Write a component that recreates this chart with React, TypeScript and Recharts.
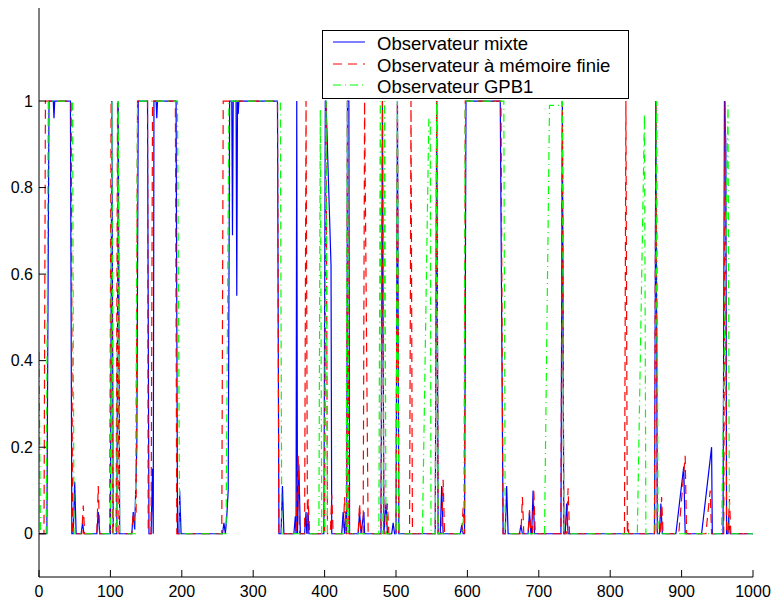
import React from 'react';
import { LineChart, Line, XAxis, YAxis, Legend } from 'recharts';

const xTicks = [0, 100, 200, 300, 400, 500, 600, 700, 800, 900, 1000];
const yTicks = [0, 0.2, 0.4, 0.6, 0.8, 1];

// [k, probabilité]
const mixte: [number, number][] = [
  [0, 0], [11, 0], [14, 1], [20, 1], [21, 0.96], [22, 1], [44, 1], [46, 0], [48, 0], [50, 0.12], [52, 0],
  [59, 0], [61, 0.025], [63, 0], [81, 0], [83, 0.05], [85, 0], [100, 0], [102, 1], [104, 0], [109, 0],
  [111, 1], [113, 0], [130, 0], [132, 0.05], [134, 0.01], [137, 0.2], [139, 1], [152, 1], [154, 0],
  [157, 0], [159, 0.15], [160, 0], [161, 1], [164, 1], [165, 0.96], [166, 1], [192, 1], [194, 0],
  [196, 0], [197, 0.1], [199, 0], [257, 0], [259, 0.025], [261, 0], [263, 0.04], [265, 0.1], [267, 1],
  [270, 1], [271, 0.69], [272, 1], [276, 1], [277, 0.55], [278, 1], [279, 0.97], [280, 1], [334, 1],
  [336, 0], [339, 0], [341, 0.11], [343, 0], [357, 0], [359, 0.04], [360, 0], [361, 1], [362, 0],
  [364, 0.16], [366, 0], [372, 0], [374, 0.05], [375, 0], [377, 0.05], [378, 0], [399, 0], [401, 1],
  [402, 1], [409, 0.62], [410, 0], [424, 0], [426, 0.05], [428, 0], [430, 0.05], [431, 0], [432, 1],
  [434, 1], [435, 0], [447, 0], [449, 0.05], [451, 0], [455, 0.05], [456, 0], [479, 0], [481, 1],
  [483, 0], [486, 0.07], [488, 0], [494, 0], [496, 0.025], [498, 0], [500, 0], [502, 1], [504, 0],
  [555, 0], [557, 1], [559, 0], [562, 0], [564, 0.11], [566, 0], [590, 0], [592, 0.02], [594, 0],
  [596, 0], [598, 1], [646, 1], [650, 0], [653, 0], [655, 0.11], [657, 0], [673, 0], [675, 0.02],
  [677, 0], [685, 0], [687, 0.05], [689, 0], [690, 0], [692, 0.1], [694, 0], [731, 0], [733, 1],
  [735, 0], [737, 0], [739, 0.07], [741, 0], [862, 0], [864, 1], [866, 0], [869, 0], [871, 0.07],
  [873, 0], [892, 0], [903, 0.155], [905, 0], [928, 0], [942, 0.2], [943, 0], [958, 0], [960, 1],
  [962, 0.9], [963, 0], [965, 0], [966, 0.04], [968, 0], [1000, 0],
];

const memoire: [number, number][] = [
  [0, 0], [7, 0], [9, 1], [45, 1], [47, 0], [60, 0], [62, 0.065], [64, 0], [81, 0], [83, 0.11], [85, 0],
  [99, 0], [101, 1], [103, 0], [108, 0], [110, 1], [112, 0], [130, 0], [132, 0.05], [134, 0.03],
  [136, 0.05], [138, 1], [152, 1], [153, 0], [157, 0], [159, 1], [191, 1], [193, 0], [256, 0], [258, 1],
  [334, 1], [336, 0], [360, 0], [363, 0.18], [365, 0], [372, 0], [374, 1], [376, 0], [377, 0.08],
  [379, 0], [400, 0], [402, 1], [404, 0], [408, 0], [410, 0.09], [412, 0], [426, 0], [428, 0.085],
  [430, 0], [431, 0], [432, 1], [434, 0], [447, 0], [449, 0.07], [451, 0], [454, 0], [456, 1], [461, 0],
  [479, 0], [481, 1], [483, 0], [486, 0], [488, 0.07], [490, 0], [500, 0], [502, 1], [504, 0], [519, 0],
  [521, 1], [523, 0], [555, 0], [557, 1], [559, 0], [564, 0], [566, 0.125], [568, 0], [592, 0],
  [594, 0.06], [596, 0], [597, 1], [647, 1], [650, 0], [675, 0], [677, 0.085], [679, 0], [685, 0],
  [687, 0.055], [689, 0], [691, 0], [693, 0.1], [695, 0], [731, 0], [733, 1], [735, 0], [739, 0],
  [741, 0.105], [743, 0], [820, 0], [822, 1], [824, 0], [825, 0.025], [826, 0], [862, 0], [864, 1],
  [866, 0], [870, 0], [872, 0.085], [874, 0], [896, 0], [905, 0.18], [907, 0], [934, 0], [940, 0.1],
  [942, 0], [959, 0], [961, 1], [963, 0], [965, 0], [967, 0.08], [969, 0], [1000, 0],
];

const gpb1: [number, number][] = [
  [0, 0.42], [2, 0], [10, 0], [13, 1], [47, 1], [49, 0], [100, 0], [102, 1], [104, 0], [109, 0], [111, 1],
  [113, 0], [135, 0], [138, 1], [194, 1], [197, 0], [262, 0], [266, 1], [338, 1], [340, 0], [392, 0],
  [394, 0.98], [396, 0], [400, 0], [402, 1], [404, 0], [430, 0], [432, 1], [434, 0], [476, 0], [478, 1],
  [480, 0], [482, 0], [484, 1], [486, 0], [500, 0], [502, 1], [504, 0], [537, 0], [546, 0.96],
  [548, 0.95], [549, 0], [555, 0], [557, 1], [559, 0], [593, 0], [595, 0.05], [597, 1], [651, 1],
  [653, 0], [708, 0], [715, 0.99], [731, 0.99], [733, 1], [735, 0], [838, 0], [848, 0.97], [850, 0],
  [863, 0], [865, 1], [867, 0], [956, 0], [965, 0.99], [967, 0], [1000, 0],
];

const seriesNames = ['Observateur mixte', 'Observateur à mémoire finie', 'Observateur GPB1'];
const seriesColors = ['#0000ff', '#ff0000', '#00ff00'];
const seriesDash = ['', '9 6', '8 4 1 4'];

const toPts = (arr: [number, number][]) => arr.map(([x, y]) => ({ x, y }));

const font = '"Liberation Sans", Arial, Helvetica, sans-serif';
const yDomain = [-0.1, 1.215];

const BottomTick = (p: any) => (
  <g>
    <line x1={p.x} y1={p.y} x2={p.x} y2={p.y - 7} stroke="#000" />
    <text x={p.x} y={p.y + 20} textAnchor="middle" fontSize={16} fontFamily={font} fill="#000">
      {p.payload.value}
    </text>
  </g>
);
const TopTick = (p: any) => <line x1={p.x} y1={p.y} x2={p.x} y2={p.y + 7} stroke="#000" />;
const LeftTick = (p: any) => (
  <g>
    <line x1={p.x} y1={p.y} x2={p.x + 7} y2={p.y} stroke="#000" />
    <text x={p.x - 6} y={p.y} dy="0.36em" textAnchor="end" fontSize={16} fontFamily={font} fill="#000">
      {p.payload.value}
    </text>
  </g>
);
const RightTick = (p: any) => <line x1={p.x} y1={p.y} x2={p.x - 7} y2={p.y} stroke="#000" />;

const LegendBox = () => (
  <div
    style={{
      boxSizing: 'border-box', width: 307, height: 69, border: '1px solid #000', background: '#fff',
      paddingTop: 2, fontFamily: font, fontSize: 18.5, color: '#000',
    }}
  >
    {seriesNames.map((n, i) => (
      <div key={n} style={{ display: 'flex', alignItems: 'center', height: 21.7, paddingLeft: 10 }}>
        <svg width={32} height={21.7} style={{ marginRight: 12, flex: 'none' }}>
          <line x1={0} y1={9} x2={32} y2={9} stroke={seriesColors[i]} strokeWidth={1}
            strokeDasharray={seriesDash[i] || undefined} />
        </svg>
        <span style={{ lineHeight: '21.7px', whiteSpace: 'nowrap' }}>{n}</span>
      </div>
    ))}
  </div>
);

export default function App() {
  const data = [mixte, memoire, gpb1];
  return (
    <div style={{ position: 'absolute', left: 0, top: 0, width: 772, height: 601, background: '#fff' }}>
      <LineChart width={772} height={601} margin={{ top: 8, right: 19, bottom: 0, left: 0 }}>
        <XAxis dataKey="x" type="number" domain={[0, 1000]} ticks={xTicks} interval={0} height={24}
          allowDataOverflow axisLine={{ stroke: '#000' }} tickLine={false} tickSize={0} tickMargin={0}
          tick={<BottomTick />} />
        <XAxis xAxisId="top" orientation="top" type="number" domain={[0, 1000]} ticks={xTicks} interval={0}
          height={0} axisLine={{ stroke: '#000' }} tickLine={false} tickSize={0} tickMargin={0}
          tick={<TopTick />} />
        <YAxis type="number" domain={yDomain} ticks={yTicks} interval={0} width={39} allowDataOverflow
          axisLine={{ stroke: '#000' }} tickLine={false} tickSize={0} tickMargin={0} tick={<LeftTick />} />
        <YAxis yAxisId="right" orientation="right" type="number" domain={yDomain} ticks={yTicks}
          interval={0} width={0} allowDataOverflow axisLine={{ stroke: '#000' }} tickLine={false} tickSize={0}
          tickMargin={0} tick={<RightTick />} />
        {data.map((d, i) => (
          <Line key={seriesNames[i]} data={toPts(d)} dataKey="y" name={seriesNames[i]} type="linear"
            stroke={seriesColors[i]} strokeWidth={1.2} strokeDasharray={seriesDash[i] || undefined}
            dot={false} activeDot={false} isAnimationActive={false} />
        ))}
        <Legend layout="vertical" align="center" verticalAlign="middle" content={<LegendBox />}
          wrapperStyle={{ left: 322, top: 30, width: 307 }} />
      </LineChart>
    </div>
  );
}
